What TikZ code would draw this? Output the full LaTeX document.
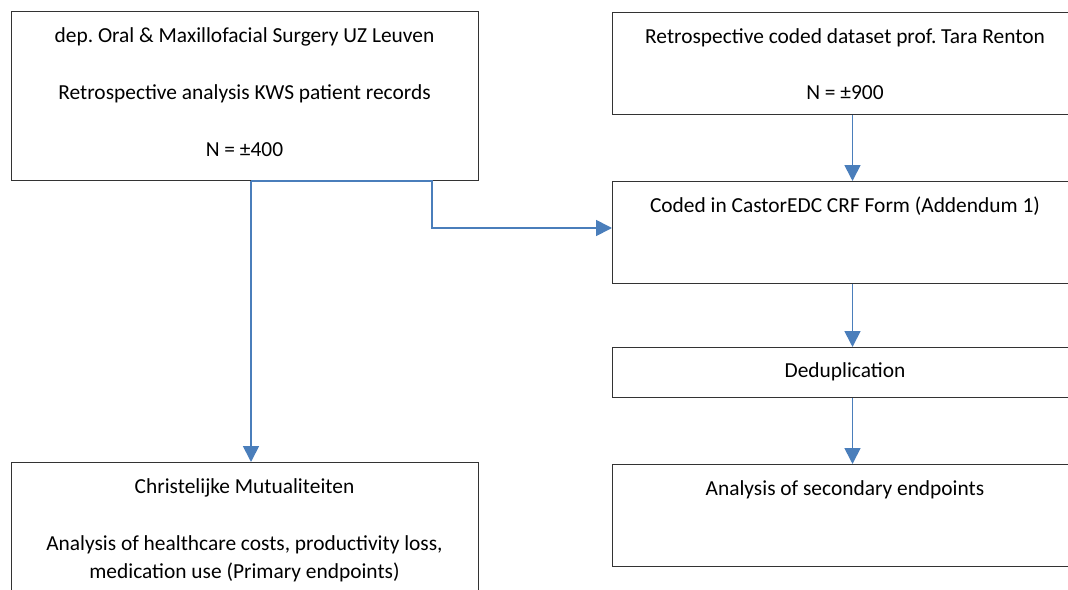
\documentclass[tikz,border=0pt]{standalone}
\usepackage{fontspec}
\setmainfont{Carlito}
\usepackage{xcolor}
\usepackage{tikz}
\usetikzlibrary{arrows.meta}
\definecolor{flowblue}{RGB}{74,126,187}

\begin{document}
\frenchspacing
\begin{tikzpicture}
                \tikzset{x={(1pt, 0pt)}, y={(0pt, -1pt)}}
                \tikzset{box/.style={draw=black!80, line width=1.2pt, anchor=north west, inner sep=0pt},
                         txt/.style={anchor=base, inner sep=0pt, font=\fontsize{21.4}{28}\selectfont},
                         flow/.style={draw=flowblue, line width=1.7pt, -{Triangle[length=16pt, width=16pt]}}}
                \useasboundingbox (0, 0) rectangle (1068, 589);
                \clip (0, 0) rectangle (1068, 589);
                \node[box, minimum width=467pt, minimum height=169pt] (leuven) at ( 11,  11) {};
                \node[box, minimum width=466pt, minimum height=102pt] (renton) at (612,  12) {};
                \node[box, minimum width=466pt, minimum height=102pt] (crf) at (612, 181) {};
                \node[box, minimum width=466pt, minimum height=50pt] (dedup) at (612, 347) {};
                \node[box, minimum width=466pt, minimum height=102pt] (secondary) at (612, 464) {};
                \node[box, minimum width=467pt, minimum height=140pt] (cm) at ( 11, 462) {};
                \node[txt] (leuvenA) at (244.5,  42) {dep. Oral \& Maxillofacial Surgery UZ Leuven};
                \node[txt] (leuvenB) at (244.5,  99) {Retrospective analysis KWS patient records};
                \node[txt] (leuvenN) at (244.5, 156) {N = ±400};
                \node[txt] (rentonA) at (845,  43) {Retrospective coded dataset prof. Tara Renton};
                \node[txt] (rentonN) at (845,  99) {N = ±900};
                \node[txt] (crfA) at (845, 212) {Coded in CastorEDC CRF Form (Addendum 1)};
                \node[txt] (dedupA) at (845, 377) {Deduplication};
                \node[txt] (secondaryA) at (845, 495) {Analysis of secondary endpoints};
                \node[txt] (cmA) at (244.5, 493) {Christelijke Mutualiteiten};
                \node[txt] (cmB) at (244.5, 550) {Analysis of healthcare costs, productivity loss,};
                \node[txt] (cmC) at (244.5, 578) {medication use (Primary endpoints)};
                \coordinate (drop) at (251, 0);
                \coordinate (col) at (852.5, 0);
                \coordinate (elbow) at (432, 228);
                \draw[flow] (leuven.south -| drop) -- (cm.north -| drop);
                \draw[flow] (leuven.south -| drop) -| (elbow) -- (elbow -| crf.west);
                \draw[flow] (renton.south -| col) -- (crf.north -| col);
                \draw[flow] (crf.south -| col) -- (dedup.north -| col);
                \draw[flow] (dedup.south -| col) -- (secondary.north -| col);
            \end{tikzpicture}
\end{document}
